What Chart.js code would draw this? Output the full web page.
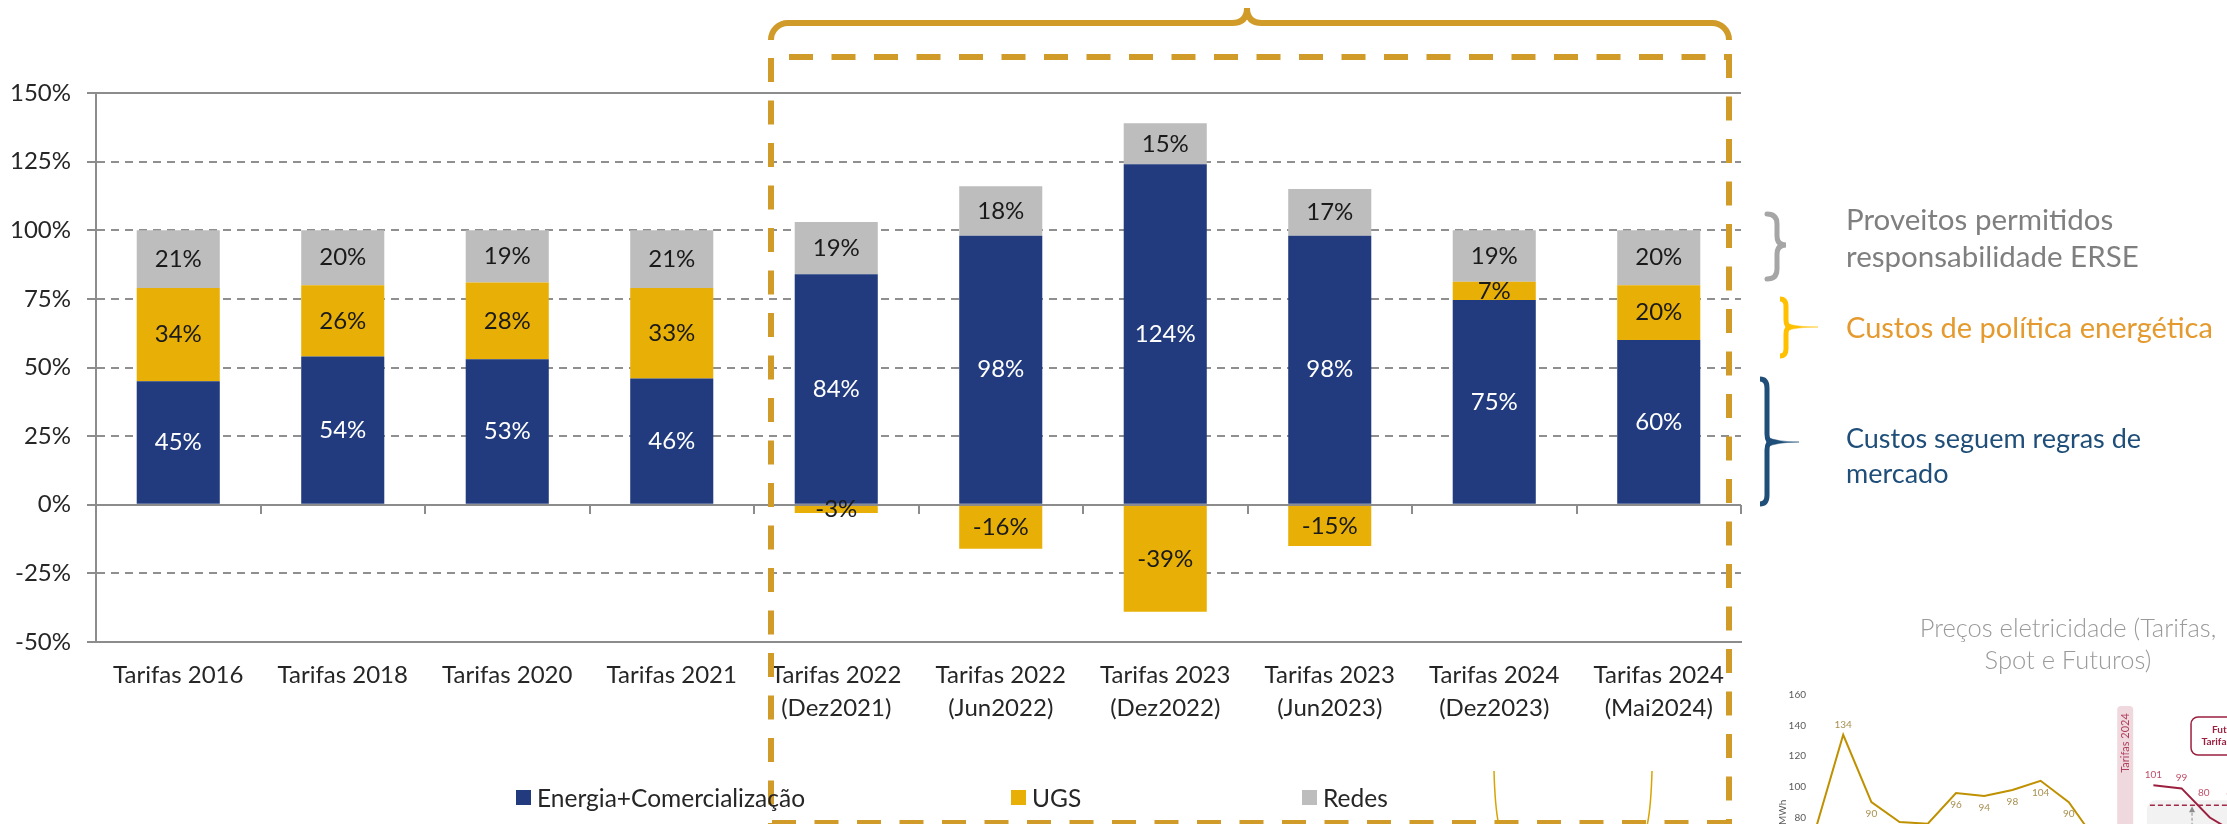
<!DOCTYPE html>
<html>
<head>
<meta charset="utf-8">
<script src="https://cdn.jsdelivr.net/npm/chart.js@4.4.1/dist/chart.umd.min.js"></script>
<style>
html,body{margin:0;padding:0;background:#fff;overflow:hidden;width:2227px;height:824px;}
#wrap{position:relative;width:2227px;height:824px;overflow:hidden;font-family:Lato,'Open Sans',sans-serif;}
#main{position:absolute;left:0;top:0;}
#mini{position:absolute;left:1700px;top:680px;}
#deco{position:absolute;left:0;top:0;pointer-events:none;}
.note{position:absolute;font-family:Lato,sans-serif;font-weight:400;white-space:nowrap;}
.leg{position:absolute;top:782px;height:30px;display:flex;align-items:center;font-family:Lato,sans-serif;font-weight:400;font-size:24.5px;color:#262626;white-space:nowrap;}
.leg i{display:inline-block;width:15px;height:15px;margin-right:6px;}
</style>
</head>
<body>
<div id="wrap">
<canvas id="main" width="2227" height="824"></canvas>
<canvas id="mini" width="560" height="300"></canvas>
<svg id="deco" width="2227" height="824" xmlns="http://www.w3.org/2000/svg">
  <g fill="none" stroke="#D09B28" stroke-width="6">
    <path d="M771 40 A17 17 0 0 1 788 23 H1232 Q1247 23 1247 8 Q1247 23 1262 23 H1712 A17 17 0 0 1 1729 40"/>
    <path d="M789 57 H1729" stroke-dasharray="24 18.5"/>
    <path d="M771 58 V830" stroke-dasharray="24 18.5"/>
    <path d="M1729 54 V830" stroke-dasharray="24 18.5"/>
    <path d="M772 823 H1729" stroke-dasharray="24 18.5"/>
  </g>
  <g fill="none" stroke="#D9A400" stroke-width="1.5">
    <path d="M1494 771 Q1495 808 1499 826"/>
    <path d="M1652 771 Q1651 808 1647 826"/>
  </g>
  <path d="M1767 214 Q1777 214 1777 224 V236 Q1777 245 1786 245 Q1777 245 1777 254 V269 Q1777 279 1767 279" fill="none" stroke="#A6A6A6" stroke-width="5" stroke-linecap="round"/>
  <g stroke="#FFC000" fill="#FFC000">
    <path d="M1780 299 Q1786 299 1786 306 V320 Q1786 327 1791 327 Q1786 327 1786 334 V349 Q1786 356 1780 356" fill="none" stroke-width="5"/>
    <path d="M1786 323 Q1795 327 1818 327 Q1795 327 1786 331 Z" stroke-width="0.5"/>
  </g>
  <g stroke="#1F4E79" fill="#1F4E79">
    <path d="M1760 379 Q1767 379 1767 388 V434 Q1767 442 1772 442 Q1767 442 1767 450 V495 Q1767 504 1760 504" fill="none" stroke-width="5"/>
    <path d="M1767 437 Q1777 442 1799 442 Q1777 442 1767 447 Z" stroke-width="0.5"/>
  </g>
</svg>
<div class="note" style="left:1846px;top:200px;color:#7f7f7f;font-size:29.5px;line-height:37px;">Proveitos permitidos<br>responsabilidade ERSE</div>
<div class="note" style="left:1846px;top:308px;color:#E49A2E;font-size:29px;line-height:37px;">Custos de política energética</div>
<div class="note" style="left:1846px;top:420px;color:#1F4E79;font-size:27px;line-height:35px;">Custos seguem regras de<br>mercado</div>
<div class="note" style="left:1868px;top:611px;width:400px;text-align:center;color:#9a9a9a;font-weight:300;font-size:25.5px;line-height:32px;">Preços eletricidade (Tarifas,<br>Spot e Futuros)</div>
<div id="legend"></div>
</div>
<script>
// ---------- main chart data ----------
const categories = [
  'Tarifas 2016', 'Tarifas 2018', 'Tarifas 2020', 'Tarifas 2021',
  ['Tarifas 2022', '(Dez2021)'], ['Tarifas 2022', '(Jun2022)'],
  ['Tarifas 2023', '(Dez2022)'], ['Tarifas 2023', '(Jun2023)'],
  ['Tarifas 2024', '(Dez2023)'], ['Tarifas 2024', '(Mai2024)']
];
const seriesNames = ['Energia+Comercialização', 'UGS', 'Redes'];
const energiaComercializacao = [45, 54, 53, 46, 84, 98, 124, 98, 74.6, 60];
const ugs = [34, 26, 28, 33, -3, -16, -39, -15, 6.6, 20];
const redes = [21, 20, 19, 21, 19, 18, 15, 17, 18.8, 20];
const yMin = -50, yMax = 150, yStep = 25;

// ---------- inset chart data ----------
const miniPeriods = ['1','2','3','4','5','6','7','8','9','10','11','12','13','14','15','16'];
const spotPrices = [71, 134, 90, 77, 76, 96, 94, 98, 104, 90, 64, null, null, null, null, null];
const futuresPrices = [null, null, null, null, null, null, null, null, null, null, null, null, 101, 99, 80, 69];
const tariffMarkerIndex = 11;
const tariffMarkerLabel = 'Tarifas 2024';
const futuresTariffLevel = 88;
const futuresBoxLines = ['Futuros', 'Tarifas 2025'];

const seriesColors = ['#213B7E', '#E8B007', '#BDBDBD'];
const labelColors = ['#ffffff', '#1a1a1a', '#1a1a1a'];
const FONT = 'Lato';
const FS = 24;

// legend
const legendLeft = [516, 1011, 1302];
const legendEl = document.getElementById('legend');
seriesNames.forEach((n, i) => {
  const d = document.createElement('div');
  d.className = 'leg';
  d.style.left = legendLeft[i] + 'px';
  d.innerHTML = '<i style="background:' + seriesColors[i] + '"></i>';
  d.appendChild(document.createTextNode(n));
  legendEl.appendChild(d);
});

const axisGray = '#8c8c8c';

const mainOverlay = {
  id: 'mainOverlay',
  afterDatasetsDraw(chart) {
    const ctx = chart.ctx;
    const xs = chart.scales.x, ys = chart.scales.y;
    const ca = chart.chartArea;
    ctx.save();
    ctx.strokeStyle = axisGray;
    ctx.lineWidth = 2;
    [yMax, 0].forEach(v => {
      const py = Math.round(ys.getPixelForValue(v));
      ctx.beginPath(); ctx.moveTo(ca.left - 9, py); ctx.lineTo(ca.right, py); ctx.stroke();
    });
    // category boundary tick marks on the zero line
    const y0 = Math.round(ys.getPixelForValue(0));
    const half = (xs.getPixelForValue(1) - xs.getPixelForValue(0)) / 2;
    for (let i = 0; i < categories.length; i++) {
      const bx = Math.round(xs.getPixelForValue(i) + half);
      ctx.beginPath(); ctx.moveTo(bx, y0); ctx.lineTo(bx, y0 + 9); ctx.stroke();
    }
    // value labels
    ctx.textAlign = 'center';
    ctx.textBaseline = 'middle';
    ctx.font = '400 ' + FS + 'px ' + FONT;
    chart.data.datasets.forEach((ds, di) => {
      const meta = chart.getDatasetMeta(di);
      meta.data.forEach((bar, i) => {
        const v = ds.data[i];
        if (!v) return;
        const p = bar.getProps(['x', 'y', 'base'], true);
        ctx.fillStyle = labelColors[di];
        ctx.fillText(Math.round(v) + '%', p.x, (p.y + p.base) / 2);
      });
    });
    ctx.restore();
  }
};

new Chart(document.getElementById('main'), {
  type: 'bar',
  data: {
    labels: categories,
    datasets: [
      { label: seriesNames[0], data: energiaComercializacao, backgroundColor: seriesColors[0] },
      { label: seriesNames[1], data: ugs, backgroundColor: seriesColors[1] },
      { label: seriesNames[2], data: redes, backgroundColor: seriesColors[2] }
    ]
  },
  options: {
    responsive: false,
    devicePixelRatio: 1,
    animation: false,
    layout: { padding: { left: 0, top: 93, right: 486, bottom: 92 } },
    datasets: { bar: { categoryPercentage: 1, barPercentage: 0.505 } },
    plugins: { legend: { display: false }, tooltip: { enabled: false } },
    scales: {
      x: {
        stacked: true,
        grid: { display: false, drawTicks: false },
        border: { display: true, color: axisGray, width: 2 },
        ticks: { color: '#262626', font: { family: FONT, size: FS, weight: '400', lineHeight: 1.375 }, padding: 17, maxRotation: 0, autoSkip: false },
        afterFit(s) { s.height = 90; }
      },
      y: {
        stacked: true,
        min: yMin, max: yMax,
        ticks: { stepSize: yStep, color: '#262626', padding: 16, font: { family: FONT, size: FS, weight: '400' }, callback: v => v + '%' },
        grid: { color: '#8f8f8f', lineWidth: 2, tickLength: 9, tickColor: axisGray, tickWidth: 2 },
        border: { display: true, color: axisGray, width: 2, dash: [8, 6] },
        afterFit(s) { s.width = 96; }
      }
    }
  },
  plugins: [mainOverlay]
});

// ---------- inset chart ----------
const miniOverlay = {
  id: 'miniOverlay',
  beforeDatasetsDraw(chart) {
    const ctx = chart.ctx;
    const xs = chart.scales.x, ys = chart.scales.y;
    const ca = chart.chartArea;
    const step = xs.getPixelForValue(1) - xs.getPixelForValue(0);
    ctx.save();
    // tariff marker band
    const bx = xs.getPixelForValue(tariffMarkerIndex);
    ctx.fillStyle = '#EFD9DE';
    ctx.beginPath();
    ctx.roundRect(bx - 8, ca.top + 11, 16, 400, 4);
    ctx.fill();
    ctx.save();
    ctx.translate(bx, ca.top + 48);
    ctx.rotate(-Math.PI / 2);
    ctx.fillStyle = '#B04060';
    ctx.font = '11px ' + FONT;
    ctx.textAlign = 'center'; ctx.textBaseline = 'middle';
    ctx.fillText(tariffMarkerLabel, 0, 0);
    ctx.restore();
    // futures shaded area
    const gx = bx + step * 0.77;
    const gy = ys.getPixelForValue(futuresTariffLevel) - 5;
    ctx.fillStyle = '#F2F2F2';
    ctx.beginPath();
    ctx.roundRect(gx, gy, 400, 400, 9);
    ctx.fill();
    // futures tariff level dashed line
    const ly = ys.getPixelForValue(futuresTariffLevel);
    ctx.strokeStyle = '#A02848';
    ctx.lineWidth = 1.5;
    ctx.setLineDash([5, 3]);
    ctx.beginPath(); ctx.moveTo(gx + 3, ly); ctx.lineTo(ca.right + 40, ly); ctx.stroke();
    // arrow
    const ax = xs.getPixelForValue(tariffMarkerIndex + 2) + step * 0.37;
    ctx.strokeStyle = '#8a8a8a';
    ctx.lineWidth = 1;
    ctx.setLineDash([3, 2]);
    ctx.beginPath(); ctx.moveTo(ax, ys.getPixelForValue(55)); ctx.lineTo(ax, ly + 4); ctx.stroke();
    ctx.setLineDash([]);
    ctx.fillStyle = '#8a8a8a';
    ctx.beginPath(); ctx.moveTo(ax, ly + 1); ctx.lineTo(ax - 3, ly + 7); ctx.lineTo(ax + 3, ly + 7); ctx.closePath(); ctx.fill();
    // futures box
    const boxX = ax - 1, boxTop = ca.top + 22;
    ctx.strokeStyle = '#9B2040';
    ctx.lineWidth = 1.5;
    ctx.beginPath(); ctx.roundRect(boxX, boxTop, 76, 38, 7); ctx.stroke();
    ctx.fillStyle = '#9B2040';
    ctx.font = 'bold 10px ' + FONT;
    ctx.textAlign = 'center'; ctx.textBaseline = 'middle';
    ctx.fillText(futuresBoxLines[0], boxX + 38, boxTop + 13);
    ctx.fillText(futuresBoxLines[1], boxX + 38, boxTop + 25);
    ctx.restore();
  },
  afterDatasetsDraw(chart) {
    const ctx = chart.ctx;
    const ys = chart.scales.y;
    const ly = ys.getPixelForValue(futuresTariffLevel);
    ctx.save();
    ctx.font = '10px ' + FONT;
    ctx.textAlign = 'center'; ctx.textBaseline = 'middle';
    const spotMax = Math.max(...spotPrices.filter(v => v !== null));
    chart.getDatasetMeta(0).data.forEach((pt, i) => {
      const v = spotPrices[i];
      if (v === null) return;
      ctx.fillStyle = '#A89050';
      ctx.fillText(String(v), pt.x, v === spotMax ? pt.y - 10 : pt.y + 12);
    });
    chart.getDatasetMeta(1).data.forEach((pt, i) => {
      const v = futuresPrices[i];
      if (v === null) return;
      const below = pt.y > ly;
      ctx.fillStyle = '#C0506A';
      ctx.fillText(String(v), below ? pt.x - 6 : pt.x, Math.min(pt.y - 11, ly - 12));
    });
    ctx.restore();
  }
};

new Chart(document.getElementById('mini'), {
  type: 'line',
  data: {
    labels: miniPeriods,
    datasets: [
      { data: spotPrices, borderColor: '#BF9000', borderWidth: 2, pointRadius: 0, tension: 0, spanGaps: false },
      { data: futuresPrices, borderColor: '#9B2040', borderWidth: 2, pointRadius: 0, tension: 0, spanGaps: false }
    ]
  },
  options: {
    responsive: false,
    devicePixelRatio: 1,
    animation: false,
    layout: { padding: { left: 73, top: 15, right: 22, bottom: 20 } },
    plugins: { legend: { display: false }, tooltip: { enabled: false } },
    scales: {
      x: { offset: false, grid: { display: false, drawTicks: false }, border: { display: false }, ticks: { display: false }, afterFit(s) { s.height = 20; } },
      y: {
        min: 0, max: 160,
        ticks: { stepSize: 20, color: '#595959', padding: 9, font: { family: FONT, size: 10 } },
        grid: { display: false, drawTicks: false },
        border: { display: false },
        title: { display: true, text: '€/MWh', color: '#595959', font: { family: FONT, size: 10 }, padding: { top: 4, bottom: 0 } },
        afterFit(s) { s.width = 42; }
      }
    }
  },
  plugins: [miniOverlay]
});
</script>
</body>
</html>
